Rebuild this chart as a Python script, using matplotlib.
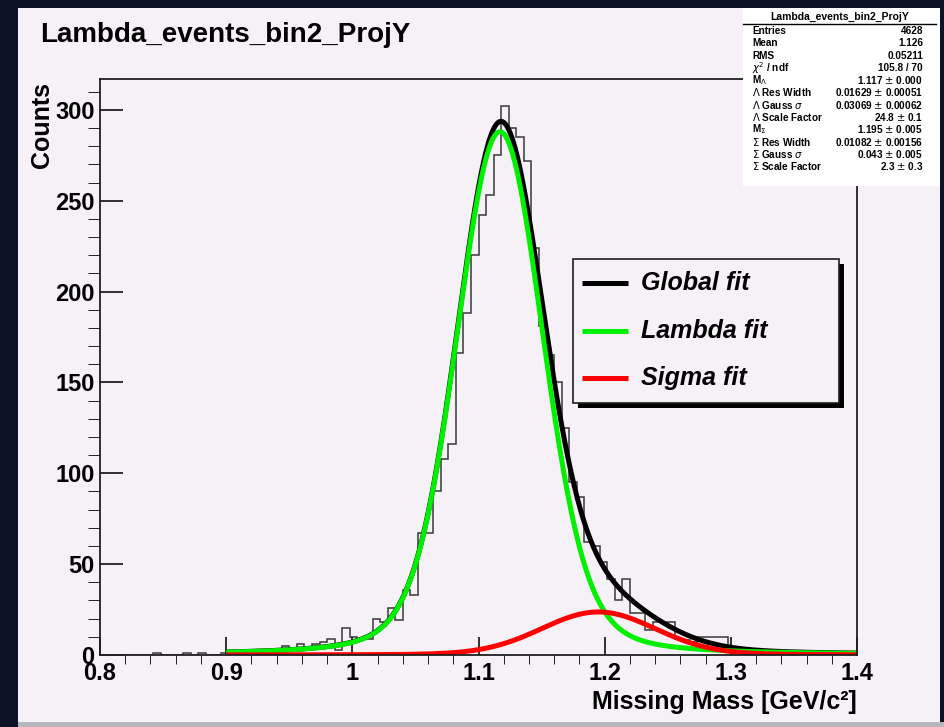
import numpy as np
import matplotlib.pyplot as plt
from matplotlib.patches import Rectangle
from matplotlib.lines import Line2D

plt.rcParams['font.family'] = ['Liberation Sans', 'DejaVu Sans']
plt.rcParams['mathtext.fontset'] = 'dejavusans'

# Missing-mass histogram: 100 bins between 0.8 and 1.4 GeV/c^2
bin_lo, bin_hi, n_bins = 0.8, 1.4, 100
counts = [
    0, 0, 0, 0, 0, 0, 0, 1, 0, 0,
    0, 1, 0, 1, 0, 0, 1, 0, 1, 1,
    2, 2, 2, 3, 5, 4, 6, 3, 6, 7,
    9, 3, 15, 10, 9, 9, 20, 18, 26, 19,
    36, 33, 67, 67, 90, 108, 116, 166, 188, 220,
    242, 253, 275, 302, 290, 285, 272, 224, 181, 165,
    150, 125, 95, 87, 62, 60, 51, 42, 30, 42,
    23, 23, 14, 18, 18, 18, 9, 8, 7, 10,
    10, 10, 10, 4, 3, 3, 2, 2, 0, 0,
    0, 0, 0, 0, 0, 0, 0, 0, 0, 0,
]

# Voigt fit components: mass, gaussian sigma, lorentzian FWHM, peak height
lambda_fit = [1.117, 0.03069, 0.01629, 288.0]
sigma_fit = [1.195, 0.043, 0.01082, 23.7]
fit_range = [0.9, 1.4]

# fit statistics box
stat_names = ['Entries', 'Mean', 'RMS', r'$\chi^2$ / ndf', r'M$_{\Lambda}$',
              r'$\Lambda$ Res Width', r'$\Lambda$ Gauss $\sigma$', r'$\Lambda$ Scale Factor',
              r'M$_{\Sigma}$', r'$\Sigma$ Res Width', r'$\Sigma$ Gauss $\sigma$',
              r'$\Sigma$ Scale Factor']
stat_values = ['4628', '1.126', '0.05211', '105.8 / 70', '1.117 $\\pm$ 0.000',
               '0.01629 $\\pm$ 0.00051', '0.03069 $\\pm$ 0.00062', '24.8 $\\pm$ 0.1',
               '1.195 $\\pm$ 0.005', '0.01082 $\\pm$ 0.00156', '0.043 $\\pm$ 0.005',
               '2.3 $\\pm$ 0.3']

legend_labels = ['Global fit', 'Lambda fit', 'Sigma fit']
legend_colors = ['black', '#00f000', '#ff0000']

canvas_col = '#f5f1f6'


def voigt(x, mass, sig, fwhm):
    # gaussian convolved with a lorentzian, done numerically
    gam = fwhm / 2
    t = np.linspace(-8 * sig, 8 * sig, 1601)
    g = np.exp(-0.5 * (t / sig) ** 2) / (sig * np.sqrt(2 * np.pi))
    lor = gam / np.pi / ((x[:, None] - mass - t[None, :]) ** 2 + gam ** 2)
    return np.trapezoid(g[None, :] * lor, t, axis=1)


def component(x, pars):
    mass, sig, fwhm, peak = pars
    shape = voigt(x, mass, sig, fwhm)
    norm = voigt(np.array([mass]), mass, sig, fwhm)[0]
    return peak * shape / norm


W, H = 944, 727
fig = plt.figure(figsize=(W / 100, H / 100), dpi=100, facecolor='#0c1326')

# background canvas (pixel coordinates)
bg = fig.add_axes([0, 0, 1, 1], zorder=0)
bg.set_xlim(0, W)
bg.set_ylim(H, 0)
bg.axis('off')
bg.add_patch(Rectangle((18, 8), 922, 714, facecolor=canvas_col, edgecolor='none'))
bg.add_patch(Rectangle((18, 722), 926, 5, facecolor='#b8b8bc', edgecolor='none'))
bg.text(40, 42, 'Lambda_events_bin2_ProjY', fontsize=20, fontweight='bold',
        ha='left', va='baseline')
bg.text(42, 82, 'Counts', fontsize=18, fontweight='bold', rotation=90,
        ha='center', va='top')
bg.text(857, 702, 'Missing Mass [GeV/c²]', fontsize=18, fontweight='bold',
        ha='right', va='center')

# main frame
ax = fig.add_axes([100 / W, 72 / H, 757 / W, 576 / H], zorder=1)
ax.set_facecolor(canvas_col)

edges = np.linspace(bin_lo, bin_hi, n_bins + 1)
ax.stairs(counts, edges, color='#383838', lw=1.1, baseline=None)

xf = np.linspace(fit_range[0], fit_range[1], 1001)
lam = component(xf, lambda_fit)
sig = component(xf, sigma_fit)
ax.plot(xf, lam + sig, color=legend_colors[0], lw=3.6, solid_capstyle='butt')
ax.plot(xf, lam, color=legend_colors[1], lw=3.6, solid_capstyle='butt')
ax.plot(xf, sig, color=legend_colors[2], lw=3.6, solid_capstyle='butt')

ax.set_xlim(bin_lo, bin_hi)
ax.set_ylim(0, 317)
ax.set_xticks(np.arange(0.8, 1.41, 0.1))
ax.set_xticklabels(['0.8', '0.9', '1', '1.1', '1.2', '1.3', '1.4'])
ax.set_xticks(np.arange(0.8, 1.401, 0.02), minor=True)
ax.set_yticks(np.arange(0, 301, 50))
ax.set_yticks(np.arange(0, 317, 10), minor=True)
ax.tick_params(direction='in', top=False, right=False, width=1.3, color='#202020',
               labelsize=17)
ax.tick_params(axis='x', which='major', length=13, pad=5)
ax.tick_params(axis='x', which='minor', length=6.5)
ax.tick_params(axis='y', which='major', length=16.5, pad=4)
ax.tick_params(axis='y', which='minor', length=9)
for lab in ax.get_xticklabels() + ax.get_yticklabels():
    lab.set_fontweight('bold')
for sp in ax.spines.values():
    sp.set_linewidth(1.3)
    sp.set_color('#202020')

# overlay for legend and statistics box
ov = fig.add_axes([0, 0, 1, 1], zorder=2)
ov.set_xlim(0, W)
ov.set_ylim(H, 0)
ov.axis('off')
ov.patch.set_alpha(0)

ov.add_patch(Rectangle((578, 264), 266, 144, facecolor='black', edgecolor='none'))
ov.add_patch(Rectangle((573, 259), 266, 144, facecolor=canvas_col,
                       edgecolor='#202020', lw=1.2))
for i, (lab, col) in enumerate(zip(legend_labels, legend_colors)):
    y = 283 + i * 47.5
    ov.add_line(Line2D([582, 628], [y, y], color=col, lw=3.6, solid_capstyle='butt'))
    ov.text(641, y, lab, fontsize=18, fontweight='bold', style='italic',
            ha='left', va='center')

ov.add_patch(Rectangle((743, 8), 197, 178, facecolor='white', edgecolor='none'))
ov.text(840, 17, 'Lambda_events_bin2_ProjY', fontsize=7.5, fontweight='bold',
        ha='center', va='center')
ov.add_line(Line2D([743, 936], [24, 24], color='black', lw=1.0))
for i, (name, val) in enumerate(zip(stat_names, stat_values)):
    y = 31 + i * 12.3
    ov.text(752, y, name, fontsize=7.2, fontweight='bold', ha='left', va='center')
    ov.text(923, y, val, fontsize=7.2, fontweight='bold', ha='right', va='center')

fig.savefig('out.png', dpi=100, facecolor=fig.get_facecolor())
